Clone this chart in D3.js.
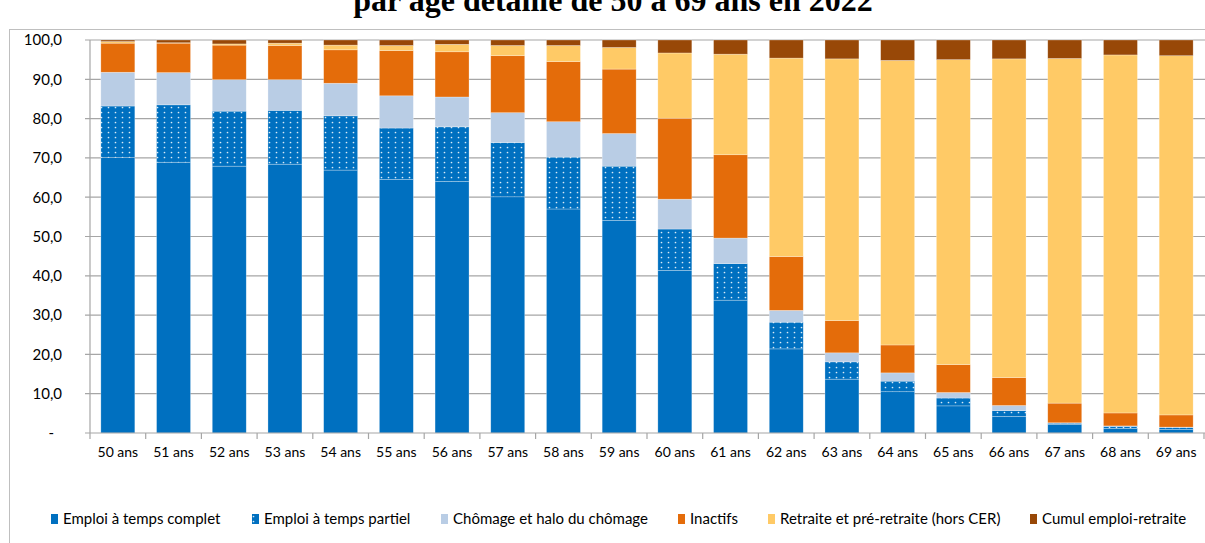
<!DOCTYPE html>
<html><head><meta charset="utf-8">
<script src="https://cdn.jsdelivr.net/npm/d3@7"></script>
<style>
html,body{margin:0;padding:0;background:#fff;}
svg{display:block;}
</style></head>
<body>
<svg id="chart" width="1205" height="543"></svg>
<script>
const title = "par âge détaillé de 50 à 69 ans en 2022";
const categories = ["50 ans","51 ans","52 ans","53 ans","54 ans","55 ans","56 ans","57 ans","58 ans","59 ans","60 ans","61 ans","62 ans","63 ans","64 ans","65 ans","66 ans","67 ans","68 ans","69 ans"];
const seriesNames = ["Emploi à temps complet","Emploi à temps partiel","Chômage et halo du chômage","Inactifs","Retraite et pré-retraite (hors CER)","Cumul emploi-retraite"];
const complet  = [70.1,68.9,67.9,68.4,66.9,64.5,64.0,60.1,57.0,54.1,41.4,33.8,21.4,13.7,10.5,6.9,4.2,2.2,1.2,0.9];
const partiel  = [13.1,14.6,14.0,13.7,13.8,13.1,13.9,13.8,13.2,13.8,10.5,9.3,6.8,4.4,2.7,2.0,1.5,0.3,0.5,0.5];
const chomage  = [8.6,8.2,8.0,7.8,8.3,8.2,7.6,7.6,9.0,8.3,7.6,6.5,3.0,2.3,2.1,1.4,1.3,0.1,0.1,0.1];
const inactifs = [7.4,7.5,8.8,8.7,8.5,11.5,11.5,14.5,15.3,16.4,20.6,21.2,13.7,8.2,7.1,7.1,7.1,5.0,3.3,3.1];
const retraite = [0.4,0.1,0.3,0.6,1.2,1.3,1.9,2.6,4.1,5.5,16.6,25.6,50.5,66.6,72.4,77.6,81.1,87.7,91.1,91.4];
const cumul    = [0.4,0.7,1.0,0.8,1.3,1.4,1.1,1.4,1.4,1.9,3.3,3.6,4.6,4.8,5.2,5.0,4.8,4.7,3.8,4.0];
const yTicks = [0,10,20,30,40,50,60,70,80,90,100];

const seriesValues = [complet, partiel, chomage, inactifs, retraite, cumul];
const colors = ["#0070C0","url(#dots)","#B9CDE5","#E46C0A","#FFCA66","#984807"];
const keys = seriesNames;
const table = categories.map((c,i)=>{
  const row = {cat:c};
  keys.forEach((k,j)=>row[k]=seriesValues[j][i]);
  return row;
});

const svg = d3.select("#chart");
const defs = svg.append("defs");
const pat = defs.append("pattern").attr("id","dots").attr("width",7).attr("height",5).attr("patternUnits","userSpaceOnUse");
pat.append("rect").attr("width",7).attr("height",5).attr("fill","#0070C0");
pat.append("circle").attr("cx",3.5).attr("cy",2.5).attr("r",0.85).attr("fill","#ffffff").attr("opacity",0.85);

// outer chart frame
svg.append("rect").attr("x",9.5).attr("y",29.5).attr("width",1300).attr("height",600)
  .attr("fill","none").attr("stroke","#BFBFBF").attr("stroke-width",1);

svg.append("text").attr("x",613).attr("y",11).attr("text-anchor","middle")
  .style("font-family","'Liberation Serif', serif").style("font-weight","bold").style("font-size","32px")
  .attr("fill","#000").text(title);

const x = d3.scaleBand().domain(categories).range([90,1204]).paddingInner(0.39).paddingOuter(0.195);
const y = d3.scaleLinear().domain([0,100]).range([433,40]);

// gridlines
svg.append("g").selectAll("line").data(yTicks.filter(d=>d>0)).join("line")
  .attr("x1",85).attr("x2",1205).attr("y1",d=>y(d)).attr("y2",d=>y(d))
  .attr("stroke","#A6A6A6").attr("stroke-width",1.2);

// y axis labels
const yAxis = d3.axisLeft(y).tickValues(yTicks).tickSize(0).tickPadding(28)
  .tickFormat(d=> d===0 ? "-" : d3.format(".1f")(d).replace(".",","));
const gy = svg.append("g").attr("transform","translate(90,0)").call(yAxis);
gy.select(".domain").remove();
gy.selectAll("text").style("font-family","Lato, sans-serif").style("font-size","15px").attr("fill","#000")
  .attr("dx",d=>d===0?-8:0);

// bars
const stack = d3.stack().keys(keys);
const stacked = stack(table);
const gBars = svg.append("g");
stacked.forEach((s,j)=>{
  gBars.append("g").attr("fill",colors[j]).selectAll("rect").data(s).join("rect")
    .attr("x",d=>x(d.data.cat)).attr("width",x.bandwidth())
    .attr("y",d=>y(d[1])).attr("height",d=>Math.max(0,y(d[0])-y(d[1])))
    .attr("stroke","rgba(255,255,255,0.45)").attr("stroke-width",0.6);
});

// y axis line
svg.append("line").attr("x1",90).attr("x2",90).attr("y1",y(100)).attr("y2",y(0))
  .attr("stroke","#A6A6A6").attr("stroke-width",1.2);
// x axis line + ticks at band boundaries
svg.append("line").attr("x1",85).attr("x2",1205).attr("y1",y(0)).attr("y2",y(0))
  .attr("stroke","#A6A6A6").attr("stroke-width",1.2);
const half = x.step()*x.paddingInner()/2;
const boundaries = categories.map(c=>x(c)-half).concat([x(categories[categories.length-1])+x.bandwidth()+half]);
svg.append("g").selectAll("line").data(boundaries).join("line")
  .attr("x1",d=>d).attr("x2",d=>d).attr("y1",y(0)).attr("y2",y(0)+6)
  .attr("stroke","#A6A6A6").attr("stroke-width",1.2);

const xAxis = d3.axisBottom(x).tickSize(0).tickPadding(14);
const gx = svg.append("g").attr("transform",`translate(0,${y(0)})`).call(xAxis);
gx.select(".domain").remove();
gx.selectAll("text").style("font-family","Lato, sans-serif").style("font-size","14px").attr("fill","#000");

// legend
const legendX = [63,264,453,690,780,1042];
const lg = svg.append("g").selectAll("g").data(seriesNames).join("g")
  .attr("transform",(d,i)=>`translate(${legendX[i]},519)`);
lg.append("rect").attr("x",-12).attr("y",-5).attr("width",7).attr("height",10).attr("fill",(d,i)=>colors[i]);
lg.append("text").attr("x",0).attr("y",0).attr("dy","0.35em")
  .style("font-family","Lato, sans-serif").style("font-size","15px").attr("fill","#000").text(d=>d);
</script>
</body></html>
